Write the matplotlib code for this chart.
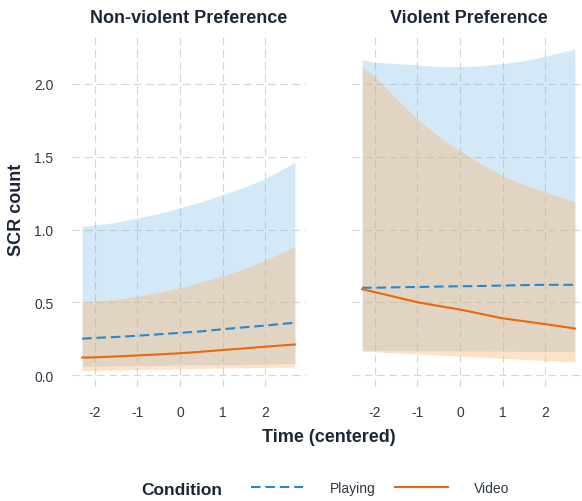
import numpy as np
import matplotlib
matplotlib.use("Agg")
import matplotlib.pyplot as plt
from matplotlib.lines import Line2D

# ==========================
# Data
# ==========================
time_pts = [-2.3, -2.0, -1.5, -1.0, -0.5, 0.0, 0.5, 1.0, 1.5, 2.0, 2.7]

# Non-violent preference
play_fit_nv = [0.25, 0.255, 0.262, 0.27, 0.28, 0.29, 0.30, 0.315, 0.328, 0.34, 0.36]
play_lo_nv = [0.06, 0.06, 0.062, 0.065, 0.067, 0.07, 0.07, 0.07, 0.072, 0.075, 0.08]
play_hi_nv = [1.02, 1.03, 1.05, 1.08, 1.11, 1.15, 1.19, 1.24, 1.29, 1.35, 1.46]
vid_fit_nv = [0.12, 0.122, 0.128, 0.135, 0.142, 0.15, 0.16, 0.172, 0.183, 0.195, 0.21]
vid_lo_nv = [0.03, 0.032, 0.035, 0.038, 0.04, 0.043, 0.046, 0.048, 0.05, 0.052, 0.055]
vid_hi_nv = [0.50, 0.51, 0.52, 0.54, 0.57, 0.60, 0.64, 0.68, 0.73, 0.79, 0.88]

# Violent preference
play_fit_v = [0.60, 0.60, 0.603, 0.605, 0.608, 0.61, 0.612, 0.615, 0.618, 0.62, 0.62]
play_lo_v = [0.17, 0.17, 0.169, 0.168, 0.167, 0.166, 0.165, 0.164, 0.163, 0.162, 0.16]
play_hi_v = [2.165, 2.15, 2.14, 2.13, 2.12, 2.12, 2.125, 2.14, 2.16, 2.19, 2.24]
vid_fit_v = [0.59, 0.57, 0.535, 0.50, 0.475, 0.45, 0.42, 0.39, 0.37, 0.35, 0.32]
vid_lo_v = [0.165, 0.16, 0.152, 0.145, 0.138, 0.13, 0.122, 0.115, 0.108, 0.10, 0.09]
vid_hi_v = [2.12, 2.05, 1.90, 1.76, 1.64, 1.54, 1.45, 1.37, 1.31, 1.26, 1.19]

panel_titles = ["Non-violent Preference", "Violent Preference"]
x_ticks = [-2, -1, 0, 1, 2]
y_ticks = [0.0, 0.5, 1.0, 1.5, 2.0]

# ==========================
# Style
# ==========================
plt.rcParams["font.family"] = ["Liberation Sans", "DejaVu Sans"]
text_dark = "#1c2636"
tick_col = "#2f3846"
grid_col = "#d6d6d6"
play_line = "#2389cc"
vid_line = "#e8680c"
play_fill = "#57abe3"
vid_fill = "#fab36e"

W, H = 582, 502
fig = plt.figure(figsize=(W / 100, H / 100), dpi=100)


def px_axes(x0, x1, y0, y1):
    return fig.add_axes([x0 / W, 1 - y1 / H, (x1 - x0) / W, (y1 - y0) / H])


ax_nv = px_axes(71.5, 305.5, 33, 388)
ax_v = px_axes(351.5, 585.5, 33, 388)

panels = [
    (ax_nv, play_fit_nv, play_lo_nv, play_hi_nv, vid_fit_nv, vid_lo_nv, vid_hi_nv),
    (ax_v, play_fit_v, play_lo_v, play_hi_v, vid_fit_v, vid_lo_v, vid_hi_v),
]

for i, (ax, pf, pl, ph, vf, vl, vh) in enumerate(panels):
    ax.fill_between(time_pts, pl, ph, color=play_fill, alpha=0.25, lw=0, zorder=1)
    ax.fill_between(time_pts, vl, vh, color=vid_fill, alpha=0.38, lw=0, zorder=2)
    ax.plot(time_pts, pf, color=play_line, lw=1.5, dashes=(4.6, 2.3), zorder=3)
    ax.plot(time_pts, vf, color=vid_line, lw=1.5, zorder=3)

    ax.set_xlim(-2.55, 2.95)
    ax.set_ylim(-0.082, 2.357)
    ax.set_xticks(x_ticks)
    ax.set_yticks(y_ticks)
    ax.set_xticklabels([str(t) for t in x_ticks])
    ax.set_yticklabels([f"{t:.1f}" for t in y_ticks])
    ax.grid(True, color=grid_col, lw=0.8, linestyle=(0, (7, 4)), zorder=0)
    ax.set_axisbelow(True)
    for s in ax.spines.values():
        s.set_visible(False)
    ax.tick_params(length=0, labelsize=10, colors=tick_col, pad=13)
    ax.set_facecolor("none")
    ax.set_title(panel_titles[i], fontsize=13, fontweight="bold",
                 color=text_dark, pad=7)
    if i == 1:
        ax.tick_params(labelleft=False)

# axis titles
fig.text(329 / W, 1 - 438 / H, "Time (centered)", ha="center", va="center",
         fontsize=13, fontweight="bold", color=text_dark)
fig.text(17 / W, 1 - 210 / H, "SCR count", ha="center", va="center",
         rotation=90, fontsize=13, fontweight="bold", color=text_dark)

# legend
fig.text(141 / W, 1 - 491 / H, "Condition", ha="left", va="center",
         fontsize=12.5, fontweight="bold", color=text_dark)
handles = [
    Line2D([0], [0], color=play_line, lw=1.5, dashes=(4.6, 2.3)),
    Line2D([0], [0], color=vid_line, lw=1.5),
]
fig.legend(handles, ["Playing", "Video"], ncol=2, frameon=False,
           loc="center left", bbox_to_anchor=(238 / W, 1 - 489 / H),
           fontsize=10, handlelength=3.8, handletextpad=1.9,
           columnspacing=1.4, labelcolor=tick_col)

fig.savefig("out.png", dpi=100, facecolor="white")
